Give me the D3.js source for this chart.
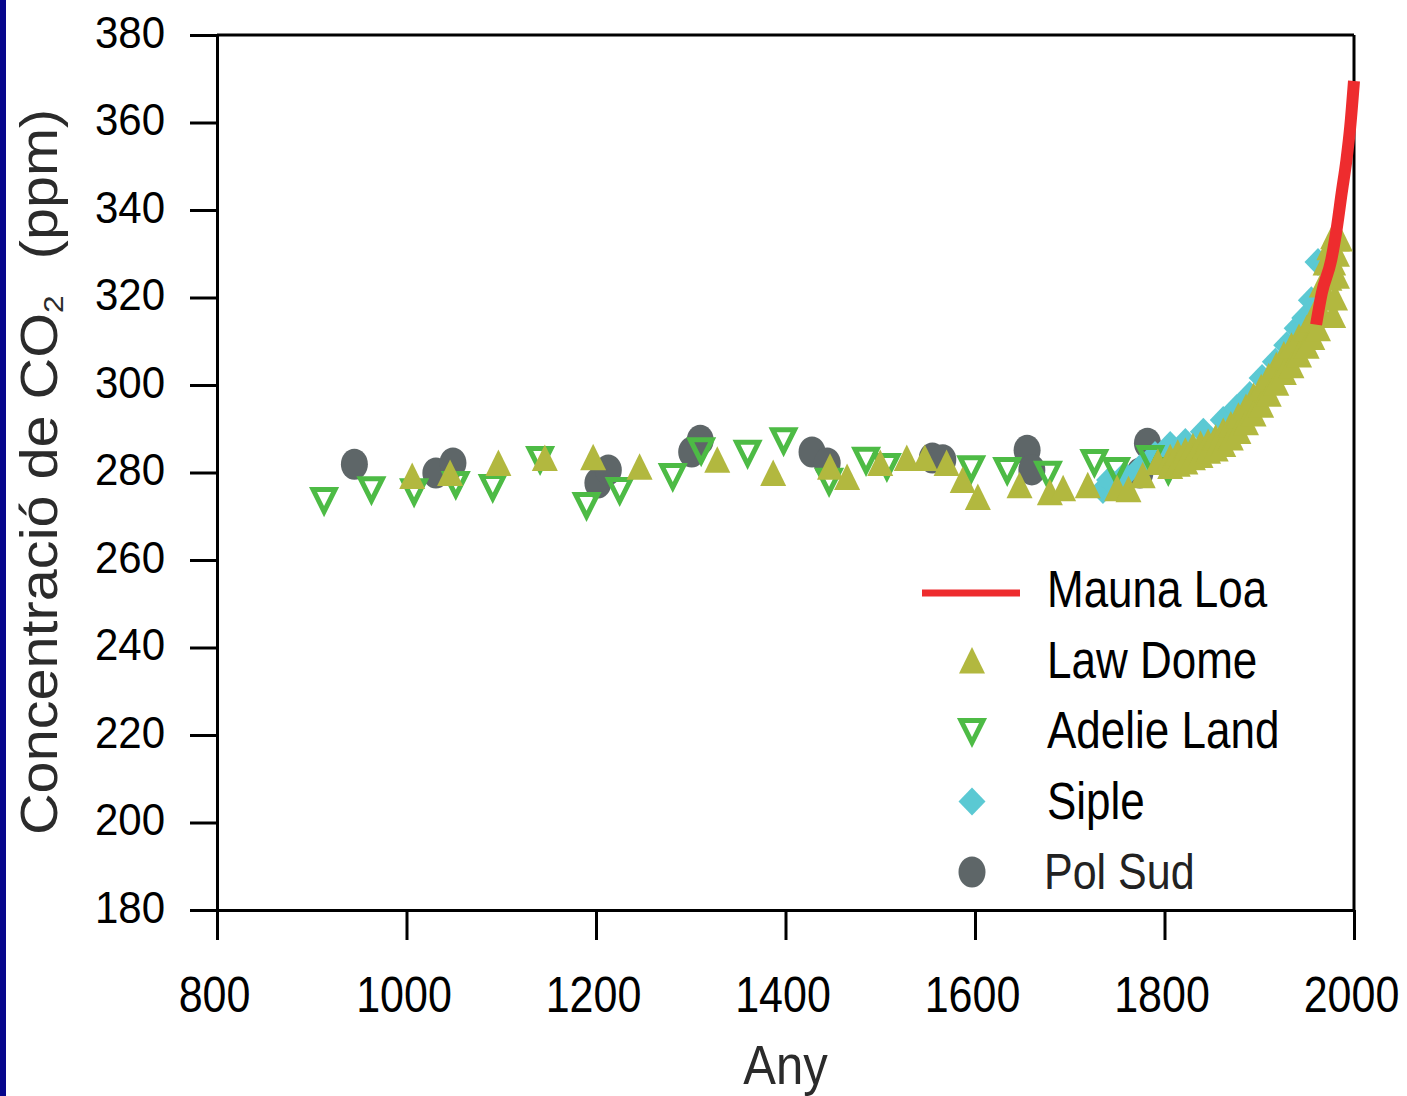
<!DOCTYPE html>
<html>
<head>
<meta charset="utf-8">
<script src="https://cdn.jsdelivr.net/npm/d3@7"></script>
<style>
  body { margin: 0; background: #fff; }
  svg { display: block; }
</style>
</head>
<body>
<div id="chart"></div>
<script>
// [any, ppm]
const maunaLoa = [[1960, 313.8], [1966, 321.0], [1976, 328.6], [1982, 336.1], [1987, 343.9], [1992, 351.4], [1996, 359.0], [2000, 369.5]];

const lawDome = [
  [1006, 279.2], [1046, 279.9], [1097, 282.2], [1146, 283.3], [1197, 283.5], [1246, 281.3],
  [1328, 282.9], [1387, 279.9], [1447, 281.3], [1465, 279.0], [1500, 282.2], [1528, 283.3],
  [1547, 283.3], [1570, 282.2], [1587, 278.3], [1603, 274.4], [1647, 277.1], [1679, 275.5],
  [1693, 276.4], [1719, 277.1], [1750, 276.4], [1762, 276.2], [1777, 279.4], [1793, 282.4],
  [1806, 283.5], [1806, 281.5], [1814, 284.5], [1814, 282.0], [1822, 285.0], [1822, 282.5],
  [1830, 286.0], [1830, 283.5], [1838, 286.5], [1838, 284.0], [1846, 287.0], [1846, 285.0],
  [1854, 288.0], [1854, 285.5], [1862, 289.5], [1862, 286.5], [1870, 291.0], [1870, 288.0],
  [1878, 293.0], [1878, 289.5], [1886, 295.0], [1886, 291.5], [1894, 297.5], [1894, 293.5],
  [1902, 299.5], [1902, 295.5], [1910, 302.0], [1910, 298.0], [1918, 304.5], [1918, 300.5],
  [1926, 307.0], [1926, 303.0], [1934, 309.0], [1934, 304.5], [1942, 311.0], [1942, 307.0],
  [1950, 313.0], [1950, 309.0], [1956, 315.0], [1956, 311.0], [1962, 318.0], [1962, 313.0],
  [1966, 323.0], [1966, 316.5], [1970, 328.0], [1970, 320.0], [1974, 331.5], [1974, 324.5],
  [1978, 334.0], [1978, 328.0], [1982, 333.5], [1982, 330.0], [1985, 333.5],
  [1978, 316.0], [1980, 320.0], [1982, 325.0]
];

const adelieLand = [
  [913, 273.7], [963, 276.2], [1008, 275.7], [1052, 277.4], [1091, 276.7], [1141, 283.1],
  [1190, 272.6], [1225, 276.0], [1281, 279.2], [1311, 285.1], [1360, 284.5], [1398, 287.4],
  [1446, 278.1], [1485, 282.9], [1507, 281.5], [1596, 281.0], [1634, 280.6], [1677, 279.7],
  [1726, 282.4], [1749, 280.6], [1785, 283.3], [1804, 280.6]
];

const siple = [
  [1735, 276.0], [1742, 278.3], [1758, 279.4], [1774, 281.0], [1790, 284.0], [1806, 286.3],
  [1822, 287.0], [1841, 289.3], [1862, 292.0], [1876, 294.7], [1890, 297.7], [1903, 301.6],
  [1917, 305.3], [1929, 309.1], [1940, 313.0], [1948, 315.3], [1955, 319.4], [1962, 328.1]
];

const polSud = [
  [945, 281.9], [1031, 279.9], [1049, 282.2], [1202, 277.6], [1213, 280.6], [1301, 284.7],
  [1310, 287.4], [1428, 284.7], [1444, 282.2], [1555, 283.3], [1566, 282.9], [1655, 285.1],
  [1660, 280.6], [1774, 279.9], [1782, 286.7]
];

const xTicks = [800, 1000, 1200, 1400, 1600, 1800, 2000];
const yTicks = [180, 200, 220, 240, 260, 280, 300, 320, 340, 360, 380];
const legendNames = ["Mauna Loa", "Law Dome", "Adelie Land", "Siple", "Pol Sud"];

const width = 1407,
  height = 1096;

const font = "'Liberation Sans', Arial, Helvetica, sans-serif";

const colors = {
  "Mauna Loa": "#ee2c2e",
  "Law Dome": "#b2b83f",
  "Adelie Land": "#4dbb45",
  "Siple": "#5bc9d3",
  "Pol Sud": "#5e6668"
};

const triUp = "M0,-13.5L13,13L-13,13Z";
const triDown = "M-11,-10.5L11,-10.5L0,11.5Z";
const diamond = "M0,-14L13.5,0L0,14L-13.5,0Z";

let svg = d3.select("#chart")
  .append("svg")
  .attr("width", width)
  .attr("height", height);

svg.append("rect")
  .attr("width", width)
  .attr("height", height)
  .attr("fill", "#fff");

// blue strip on the left edge
svg.append("rect")
  .attr("width", 6)
  .attr("height", height)
  .attr("fill", "#06068c");

let x = d3.scaleLinear()
  .domain([800, 2000])
  .range([217, 1354]);

let y = d3.scaleLinear()
  .domain([180, 380])
  .range([910, 35]);

// axes
let yAxis = svg.append("g")
  .attr("transform", `translate(${x(800)},0)`)
  .call(d3.axisLeft(y).tickValues(yTicks).tickSize(27).tickSizeOuter(0));

yAxis.selectAll("line, path").attr("stroke", "#000").attr("stroke-width", 3);
yAxis.selectAll("text")
  .attr("x", 0)
  .attr("dy", null)
  .attr("transform", "translate(-52,12) scale(1,1.07)")
  .attr("fill", "#000")
  .style("font-family", font)
  .style("font-size", "42px")
  .attr("text-anchor", "end");

let xAxis = svg.append("g")
  .attr("transform", `translate(0,${y(180)})`)
  .call(d3.axisBottom(x).tickValues(xTicks).tickFormat(d3.format("d")).tickSize(30).tickSizeOuter(0));

xAxis.selectAll("line, path").attr("stroke", "#000").attr("stroke-width", 3);
xAxis.selectAll("text")
  .attr("y", 0)
  .attr("dy", null)
  .attr("transform", "translate(-3,102) scale(1,1.17)")
  .attr("fill", "#000")
  .style("font-family", font)
  .style("font-size", "43px");

// top and right edges of the frame
svg.append("line")
  .attr("x1", x(800)).attr("x2", x(2000))
  .attr("y1", y(380)).attr("y2", y(380))
  .attr("stroke", "#000").attr("stroke-width", 3);

svg.append("line")
  .attr("x1", x(2000)).attr("x2", x(2000))
  .attr("y1", y(380)).attr("y2", y(180))
  .attr("stroke", "#000").attr("stroke-width", 3);

// axis titles
svg.append("text")
  .attr("transform", `translate(${(x(800) + x(2000)) / 2},1084) scale(1,1.14)`)
  .attr("text-anchor", "middle")
  .attr("fill", "#2b2b2b")
  .style("font-family", font)
  .style("font-size", "49px")
  .text("Any");

let yTitle = svg.append("text")
  .attr("transform", "translate(57,835) rotate(-90) scale(1.13,1)")
  .attr("fill", "#2b2b2b")
  .style("font-family", font)
  .style("font-size", "51px");

yTitle.append("tspan").text("Concentració de CO");
yTitle.append("tspan").attr("dy", 6).style("font-size", "28px").text("2");
yTitle.append("tspan").attr("dy", -6).attr("dx", 32).text("(ppm)");

// data
let g = svg.append("g");

g.selectAll(".polsud")
  .data(polSud)
  .join("ellipse")
  .attr("cx", d => x(d[0]))
  .attr("cy", d => y(d[1]))
  .attr("rx", 13.5)
  .attr("ry", 15.5)
  .attr("fill", colors["Pol Sud"]);

g.selectAll(".siple")
  .data(siple)
  .join("path")
  .attr("d", diamond)
  .attr("transform", d => `translate(${x(d[0])},${y(d[1])})`)
  .attr("fill", colors["Siple"]);

g.selectAll(".adelie")
  .data(adelieLand)
  .join("path")
  .attr("d", triDown)
  .attr("transform", d => `translate(${x(d[0])},${y(d[1])})`)
  .attr("fill", "none")
  .attr("stroke", colors["Adelie Land"])
  .attr("stroke-width", 5);

g.selectAll(".lawdome")
  .data(lawDome)
  .join("path")
  .attr("d", triUp)
  .attr("transform", d => `translate(${x(d[0])},${y(d[1])})`)
  .attr("fill", colors["Law Dome"]);

let line = d3.line()
  .x(d => x(d[0]))
  .y(d => y(d[1]))
  .curve(d3.curveMonotoneX);

svg.append("path")
  .datum(maunaLoa)
  .attr("d", line)
  .attr("fill", "none")
  .attr("stroke", colors["Mauna Loa"])
  .attr("stroke-width", 12);

// legend
let legend = svg.append("g");

legendNames.forEach((name, i) => {
  let ly = 590 + i * 70.5;
  let item = legend.append("g");

  if (name === "Mauna Loa") {
    item.append("line")
      .attr("x1", 922).attr("x2", 1020)
      .attr("y1", ly + 3).attr("y2", ly + 3)
      .attr("stroke", colors[name])
      .attr("stroke-width", 7);
  } else if (name === "Pol Sud") {
    item.append("ellipse")
      .attr("cx", 972).attr("cy", ly)
      .attr("rx", 13.5).attr("ry", 15.5)
      .attr("fill", colors[name]);
  } else {
    let p = item.append("path")
      .attr("transform", `translate(972,${ly})`);
    if (name === "Law Dome") p.attr("d", triUp).attr("fill", colors[name]);
    if (name === "Siple") p.attr("d", diamond).attr("fill", colors[name]);
    if (name === "Adelie Land") {
      p.attr("d", triDown).attr("fill", "none")
        .attr("stroke", colors[name]).attr("stroke-width", 5);
    }
  }

  item.append("text")
    .attr("transform", `translate(${name === "Pol Sud" ? 1044 : 1047},${ly + 17}) scale(1,1.17)`)
    .attr("fill", name === "Pol Sud" ? "#222" : "#000")
    .style("font-family", font)
    .style("font-size", name === "Pol Sud" ? "43px" : "44px")
    .text(name);
});
</script>
</body>
</html>
